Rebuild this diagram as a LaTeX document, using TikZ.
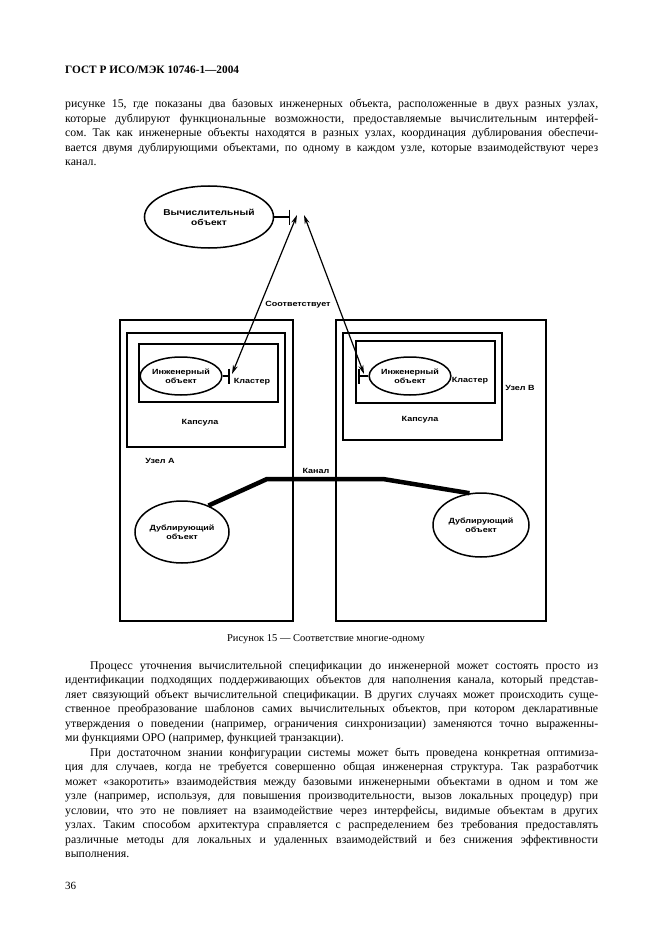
\documentclass[tikz,border=0pt]{standalone}
\usepackage{fontspec}
\setmainfont{Liberation Serif}
\newfontfamily\diagfont[FakeStretch=1.2]{Liberation Sans}
\usetikzlibrary{shapes}
\usetikzlibrary{arrows.meta}
\frenchspacing

\begin{document}
\begin{tikzpicture}[x=1pt, y=-1pt,
    obj/.style={ellipse, draw, line width=1.5pt, align=center, inner sep=0pt,
        font=\diagfont\bfseries\fontsize{7.5}{8.8}\selectfont},
    lbl/.style={font=\diagfont\bfseries\fontsize{7.5}{8.8}\selectfont},
    box/.style={line width=2.4pt},
    link/.style={line width=1.2pt, <->, >={Stealth[length=9pt,width=5pt]}},
    iface/.style={line width=1.5pt, -{Bar[width=15pt]}},
    body/.style={anchor=base west, inner sep=0pt, text width=533pt, align=justify,
        font=\fontsize{11.8}{14.5}\selectfont}]
    \useasboundingbox (0,0) rectangle (661,936);

    % page text
    \node[anchor=base west, inner sep=0pt, font=\bfseries\fontsize{11.3}{13}\selectfont] (head) at (65,74) {ГОСТ Р ИСО/МЭК 10746-1—2004};
    \node[body] (par1) at (65,108) {рисунке 15, где показаны два базовых инженерных объекта, расположенные в двух разных узлах,\linebreak
        которые дублируют функциональные возможности, предоставляемые вычислительным интерфей-\linebreak
        сом. Так как инженерные объекты находятся в разных узлах, координация дублирования обеспечи-\linebreak
        вается двумя дублирующими объектами, по одному в каждом узле, которые взаимодействуют через\linebreak
        канал.};

    % nodes, capsules, clusters
    \draw[box] (120,320) rectangle (293,621);
    \draw[box] (336,320) rectangle (546,621);
    \draw[box] (127,333) rectangle (285,447);
    \draw[box] (343,333) rectangle (502,440);
    \draw[box] (139,344) rectangle (278,402);
    \draw[box] (356,341) rectangle (495,403);

    \node[obj, minimum width=118pt, minimum height=62pt, font=\diagfont\bfseries\fontsize{8.5}{9.8}\selectfont] (vo) at (209,217) {Вычислительный\\объект};
    \node[obj, minimum width=70pt, minimum height=38pt] (eoA) at (181,376) {Инженерный\\объект};
    \node[obj, minimum width=70pt, minimum height=38pt] (eoB) at (410,376) {Инженерный\\объект};
    \node[obj, minimum width=94pt, minimum height=62pt] (dupA) at (182,532) {Дублирующий\\объект};
    \node[obj, minimum width=96pt, minimum height=64pt] (dupB) at (481,525) {Дублирующий\\объект};

    \draw[iface] (vo.east) -- ++(16,0) coordinate (voI);
    \draw[iface] (eoA.east) -- ++(7,0) coordinate (eoAI);
    \draw[iface] (eoB.west) -- ++(-10,0) coordinate (eoBI);

    \coordinate (topL) at (297,215);
    \coordinate (topR) at (304,215);
    \coordinate (botL) at (232,374);
    \coordinate (botR) at (364,374);
    \draw[link] (topL) -- (botL);
    \draw[link] (topR) -- (botR);

    \node[lbl] (corr) at (298,305) {Соответствует};
    \node[lbl] (clA) at (252,382) {Кластер};
    \node[lbl] (clB) at (470,381) {Кластер};
    \node[lbl] (capA) at (200,423) {Капсула};
    \node[lbl] (capB) at (420,420) {Капсула};
    \node[lbl] (uzA) at (160,461) {Узел А};
    \node[lbl] (uzB) at (520,388) {Узел В};
    \node[lbl] (kan) at (316,471) {Канал};

    \coordinate (k1) at (267,479);
    \coordinate (k2) at (383,479);
    \draw[line width=4.5pt] (dupA.45) -- (k1) -- (k2) -- (dupB.110);

    \node[anchor=base, inner sep=0pt, font=\fontsize{10.5}{12}\selectfont] (cap) at (326,641) {Рисунок 15 — Соответствие многие-одному};

    \node[body] (par2) at (65,669) {\hspace*{25pt}Процесс уточнения вычислительной спецификации до инженерной может состоять просто из\linebreak
        идентификации подходящих поддерживающих объектов для наполнения канала, который представ-\linebreak
        ляет связующий объект вычислительной спецификации. В других случаях может происходить суще-\linebreak
        ственное преобразование шаблонов самих вычислительных объектов, при котором декларативные\linebreak
        утверждения о поведении (например, ограничения синхронизации) заменяются точно выраженны-\linebreak
        ми функциями ОРО (например, функцией транзакции).\par
        \hspace*{25pt}При достаточном знании конфигурации системы может быть проведена конкретная оптимиза-\linebreak
        ция для случаев, когда не требуется совершенно общая инженерная структура. Так разработчик\linebreak
        может «закоротить» взаимодействия между базовыми инженерными объектами в одном и том же\linebreak
        узле (например, используя, для повышения производительности, вызов локальных процедур) при\linebreak
        условии, что это не повлияет на взаимодействие через интерфейсы, видимые объектам в других\linebreak
        узлах. Таким способом архитектура справляется с распределением без требования предоставлять\linebreak
        различные методы для локальных и удаленных взаимодействий и без снижения эффективности\linebreak
        выполнения.};

    \node[anchor=base west, inner sep=0pt, font=\fontsize{11}{13}\selectfont] (pg) at (65,889) {36};
\end{tikzpicture}
\end{document}
